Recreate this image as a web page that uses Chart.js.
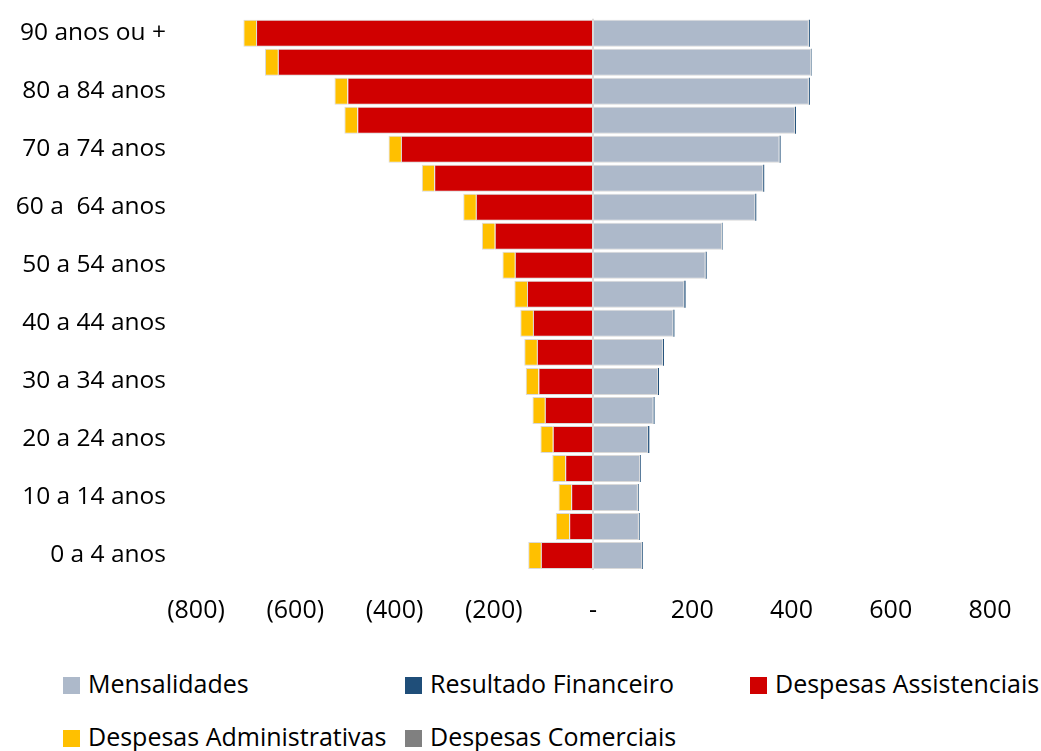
<!DOCTYPE html>
<html>
<head>
<meta charset="utf-8">
<script src="https://cdn.jsdelivr.net/npm/chart.js@4/dist/chart.umd.min.js"></script>
<style>
  body { margin: 0; background: #fff; font-family: "Open Sans", sans-serif; }
  #wrap { position: relative; width: 1041px; height: 751px; overflow: hidden; }
  #chart { position: absolute; left: 0; top: -26px; }
  .legend { position: absolute; left: 63px; width: 1000px; font-size: 25px; color: #000; }
  .item { position: absolute; top: 0; white-space: nowrap; line-height: 30px; }
  .item span.box { display: inline-block; width: 17px; height: 17px; margin-right: 8px; vertical-align: -1px; }
</style>
</head>
<body>
<div id="wrap">
  <canvas id="chart" width="1041" height="676"></canvas>
  <div id="legend1" class="legend" style="top:668px"></div>
  <div id="legend2" class="legend" style="top:721px"></div>
</div>
<script>
// age groups, oldest first (top of chart)
const faixas = ['90 anos ou +', '85 a 89 anos', '80 a 84 anos', '75 a 79 anos', '70 a 74 anos',
  '65 a 69 anos', '60 a  64 anos', '55 a 59 anos', '50 a 54 anos', '45 a 49 anos',
  '40 a 44 anos', '35 a 39 anos', '30 a 34 anos', '25 a 29 anos', '20 a 24 anos',
  '15 a 19 anos', '10 a 14 anos', '5 a 9 anos', '0 a 4 anos'];

const mensalidades = [435, 440, 435, 407, 376, 343, 327, 260, 227, 184, 162, 141, 131, 122, 111, 95, 90.5, 92.5, 99];
const resultadoFinanceiro = [2, 1, 2, 2, 2, 2, 2, 1, 2, 2.5, 2, 2, 2, 2, 2.5, 1.5, 1.5, 1.5, 1.5];
const despAssistenciais = [-679, -635, -495, -475, -387, -320, -236, -198, -157.5, -133, -121, -113, -110, -97, -81, -56, -44, -48, -105];
const despAdministrativas = [-25.5, -26, -26, -26, -25, -25, -25.5, -26, -25, -25.5, -25.5, -25.5, -25.5, -25, -25, -26, -25.5, -27, -25.5];
const despComerciais = [0, 0, 0, 0, 0, 0, 0, 0, 0, 0, 0, 0, 0, 0, 0, 0, 0, 0, 0];

const xTicks = [-800, -600, -400, -200, 0, 200, 400, 600, 800];

const FONT = '"Open Sans", sans-serif';
const outline = 'rgba(215,215,215,0.95)';

const series = [
  { label: 'Mensalidades', data: mensalidades, color: '#adb9ca', border: 1 },
  { label: 'Resultado Financeiro', data: resultadoFinanceiro, color: '#1f4e79', border: 0 },
  { label: 'Despesas Assistenciais', data: despAssistenciais, color: '#d00000', border: 1 },
  { label: 'Despesas Administrativas', data: despAdministrativas, color: '#ffc000', border: 1 },
  { label: 'Despesas Comerciais', data: despComerciais, color: '#808080', border: 0 }
];

function fmt(v) {
  if (v === 0) return '-';
  return v < 0 ? '(' + Math.abs(v) + ')' : String(v);
}

new Chart(document.getElementById('chart'), {
  type: 'bar',
  data: {
    labels: faixas,
    datasets: series.map(s => ({
      label: s.label,
      data: s.data,
      backgroundColor: s.color,
      borderColor: s.border ? outline : s.color,
      borderWidth: s.border,
      barPercentage: 0.93,
      categoryPercentage: 1.0
    }))
  },
  options: {
    indexAxis: 'y',
    responsive: false,
    animation: false,
    layout: { padding: { top: 0, right: 51, left: 0, bottom: 0 } },
    plugins: {
      legend: { display: false },
      tooltip: { enabled: false }
    },
    scales: {
      x: {
        stacked: true,
        min: -800,
        max: 800,
        z: 1,
        afterBuildTicks: scale => { scale.ticks = xTicks.map(v => ({ value: v })); },
        afterFit: scale => { scale.height = 80; },
        ticks: {
          color: '#000',
          font: { family: FONT, size: 25 },
          padding: 26,
          maxRotation: 0,
          autoSkip: false,
          callback: v => fmt(v)
        },
        grid: {
          drawTicks: false,
          lineWidth: 2,
          color: c => (c.tick && c.tick.value === 0) ? '#d9d9d9' : 'rgba(0,0,0,0)'
        },
        border: { display: false }
      },
      y: {
        stacked: true,
        afterFit: scale => { scale.width = 196; },
        ticks: {
          color: '#000',
          font: { family: FONT, size: 24.5 },
          padding: 30,
          autoSkip: false,
          callback: function (v, i) { return i % 2 === 0 ? this.getLabelForValue(v) : ''; }
        },
        grid: { display: false, drawTicks: false },
        border: { display: false }
      }
    }
  }
});

// legend laid out in three columns, two rows
const cols = [0, 342, 687];
function addItem(el, s, col) {
  const d = document.createElement('div');
  d.className = 'item';
  d.style.left = cols[col] + 'px';
  d.innerHTML = '<span class="box" style="background:' + s.color + '"></span>' + s.label;
  el.appendChild(d);
}
const l1 = document.getElementById('legend1');
const l2 = document.getElementById('legend2');
addItem(l1, series[0], 0);
addItem(l1, series[1], 1);
addItem(l1, series[2], 2);
addItem(l2, series[3], 0);
addItem(l2, series[4], 1);
</script>
</body>
</html>
